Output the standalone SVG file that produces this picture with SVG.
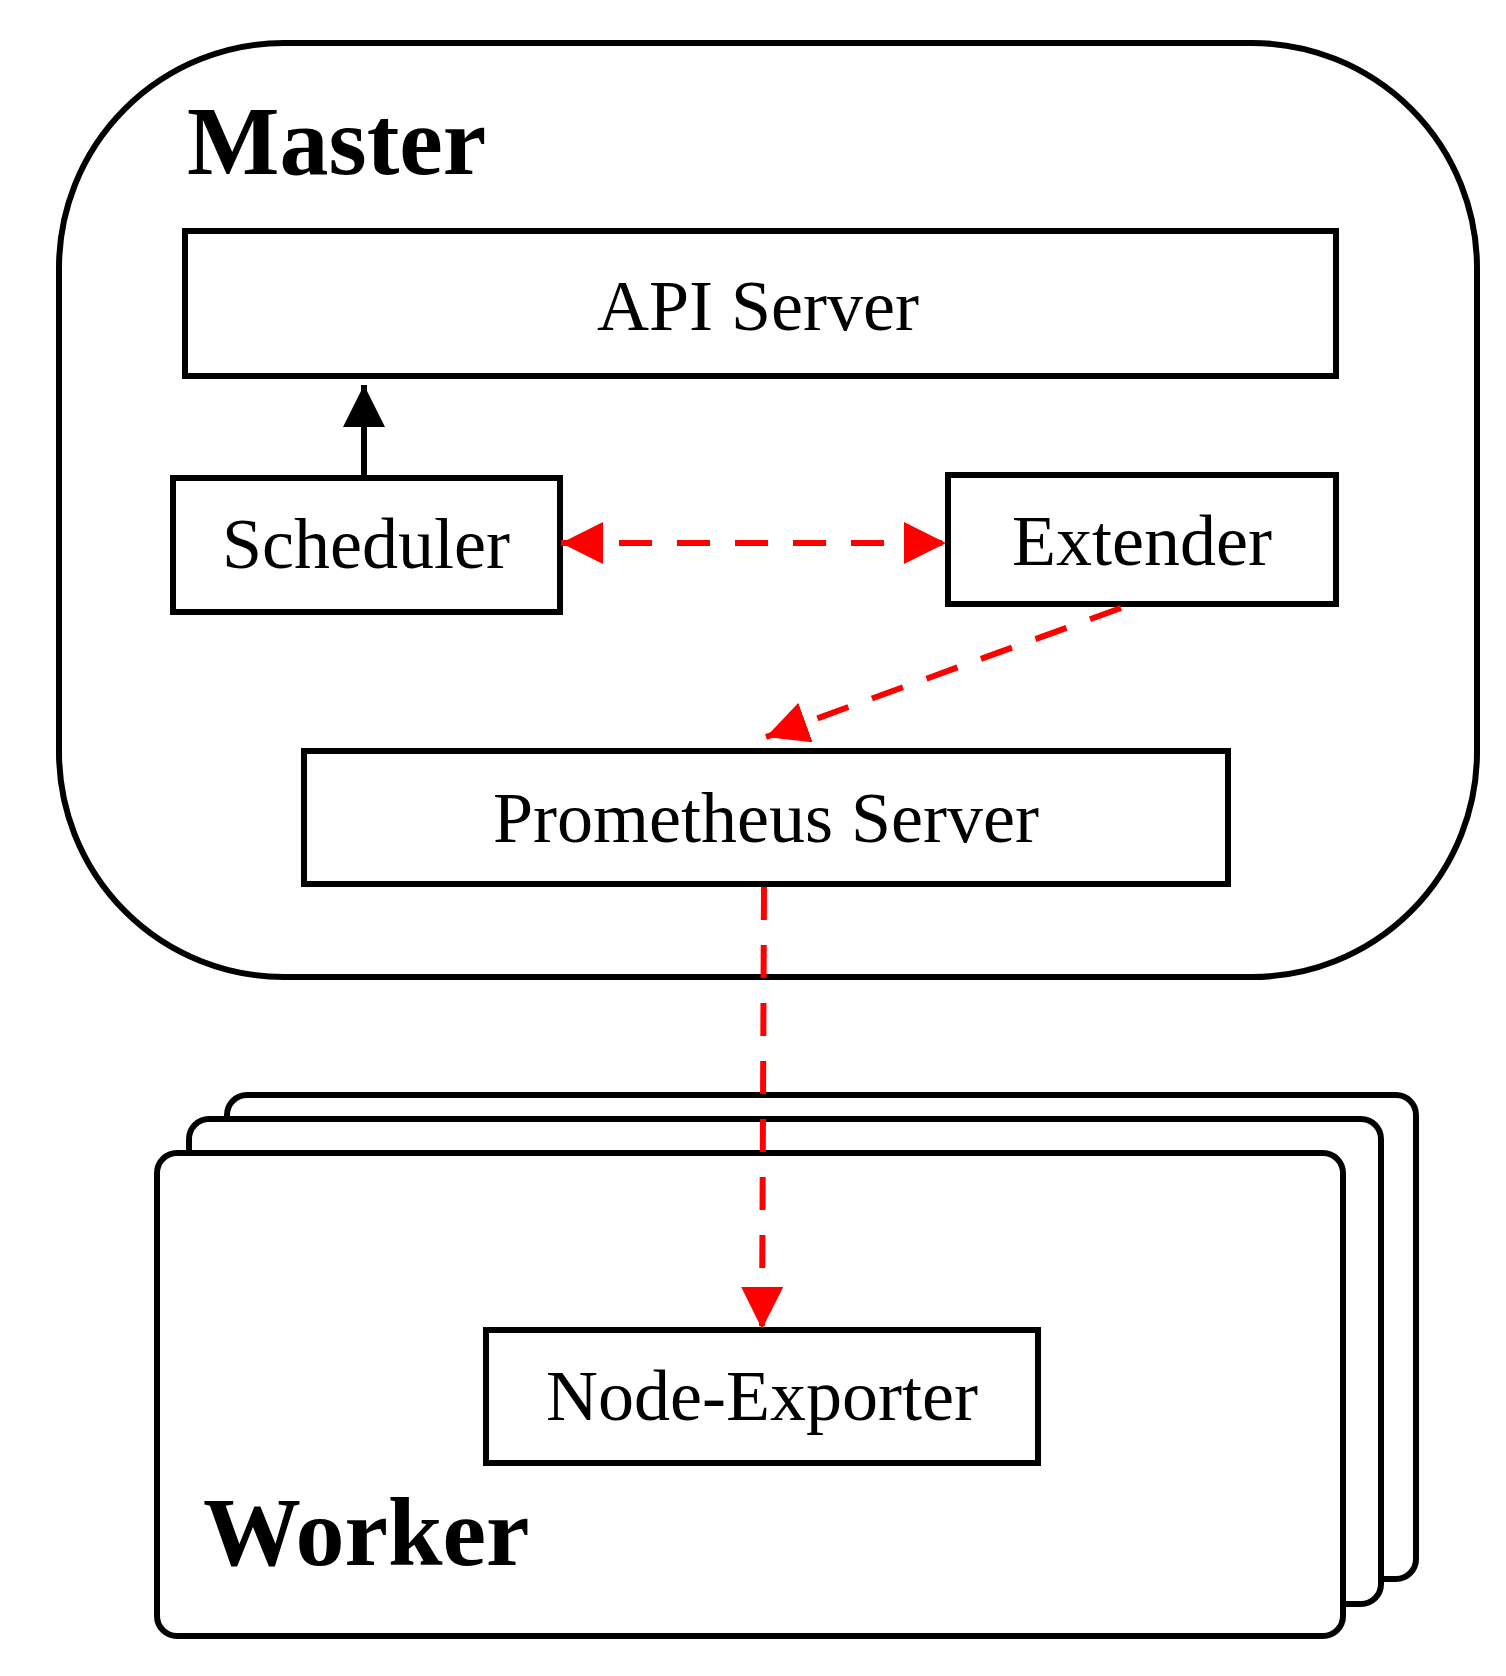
<svg xmlns="http://www.w3.org/2000/svg" width="1506" height="1676" viewBox="0 0 1506 1676">
<style>
.box{fill:#fff;stroke:#000;stroke-width:6}
.lbl{font-family:"Liberation Serif",serif;font-size:72px;text-anchor:middle;fill:#000}
.title{font-family:"Liberation Serif",serif;font-size:98px;font-weight:bold;fill:#000}
.red{stroke:#f00;stroke-width:6;stroke-dasharray:33 25;fill:none}
</style>
<defs>
<marker id="ra" viewBox="0 0 10 10" refX="10" refY="5" markerWidth="7" markerHeight="7" orient="auto-start-reverse" markerUnits="strokeWidth"><path d="M0,0L10,5L0,10z" fill="#f00"/></marker>
<marker id="ba" viewBox="0 0 10 10" refX="10" refY="5" markerWidth="7" markerHeight="7" orient="auto" markerUnits="strokeWidth"><path d="M0,0L10,5L0,10z" fill="#000"/></marker>
</defs>
<g id="master"><rect class="box" x="59" y="43" width="1418" height="934" rx="225" ry="225"/><text class="title" x="187" y="174">Master</text></g>
<g id="workers">
<rect class="box" x="227" y="1095" width="1189" height="484" rx="20"/>
<rect class="box" x="189" y="1119" width="1192" height="485" rx="20"/>
<rect class="box" x="157" y="1153" width="1186" height="483" rx="20"/>
<text class="title" x="203" y="1565">Worker</text>
</g>
<g id="api"><rect class="box" x="185" y="231" width="1151" height="145"/><text class="lbl" x="758" y="330">API Server</text></g>
<g id="scheduler"><rect class="box" x="173" y="478" width="387" height="134"/><text class="lbl" x="366" y="568">Scheduler</text></g>
<g id="extender"><rect class="box" x="948" y="475" width="388" height="129"/><text class="lbl" x="1142" y="565">Extender</text></g>
<g id="prometheus"><rect class="box" x="304" y="751" width="924" height="133"/><text class="lbl" x="766" y="842">Prometheus Server</text></g>
<g id="nodeexporter"><rect class="box" x="486" y="1330" width="552" height="133"/><text class="lbl" x="762" y="1420">Node-Exporter</text></g>
<g id="connectors">
<line x1="364" y1="476" x2="364" y2="385" stroke="#000" stroke-width="6" marker-end="url(#ba)"/>
<line class="red" x1="561" y1="543" x2="946" y2="543" marker-start="url(#ra)" marker-end="url(#ra)"/>
<line class="red" x1="1121" y1="608" x2="766" y2="737" marker-end="url(#ra)"/>
<line class="red" x1="764" y1="887" x2="762" y2="1329" marker-end="url(#ra)"/>
</g>
</svg>
